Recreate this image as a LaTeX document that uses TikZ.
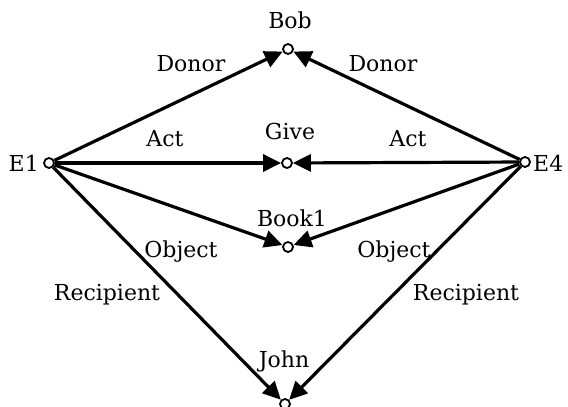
\documentclass[tikz,border=0pt]{standalone}
\usepackage{fontspec}
\setmainfont{DejaVu Serif}
\usetikzlibrary{arrows.meta}
\begin{document}
\begin{tikzpicture}[x=1pt,y=-1pt,
  vtx/.style={circle,draw,line width=1.8pt,inner sep=0pt,minimum size=10pt},
  rel/.style={line width=3.2pt,-{Triangle[length=18pt,width=17pt]}},
  lbl/.style={font=\fontsize{22}{22}\selectfont,inner sep=0pt}]
\useasboundingbox (0,0) rectangle (568,407);
% concept vertices
\node[vtx] (E1) at (49,163) {};
\node[vtx] (E4) at (525,162) {};
\node[vtx] (bob) at (288,49) {};
\node[vtx] (give) at (287,163) {};
\node[vtx] (book) at (288,247) {};
\node[vtx] (john) at (285,404) {};
% vertex names
\node[lbl,anchor=east] (tE1) at (39,163) {E1};
\node[lbl,anchor=west] (tE4) at (533,163) {E4};
\node[lbl] (tbob) at (290,20) {Bob};
\node[lbl] (tgive) at (290,131) {Give};
\node[lbl] (tbook) at (292,218) {Book1};
\node[lbl] (tjohn) at (284,361) {John};
% relations
\draw[rel] (E1) -- (bob);
\draw[rel] (E4) -- (bob);
\draw[rel] (E1) -- (give);
\draw[rel] (E4) -- (give);
\draw[rel] (E1) -- (book);
\draw[rel] (E4) -- (book);
\draw[rel] (E1) -- (john);
\draw[rel] (E4) -- (john);
% relation labels
\node[lbl] (d1) at (191,64) {Donor};
\node[lbl] (d2) at (383,64) {Donor};
\node[lbl] (a1) at (165,139) {Act};
\node[lbl] (a2) at (408,139) {Act};
\node[lbl] (o1) at (181,252) {Object};
\node[lbl] (o2) at (394,252) {Object};
\node[lbl] (r1) at (107,295) {Recipient};
\node[lbl] (r2) at (466,295) {Recipient};
\end{tikzpicture}
\end{document}
